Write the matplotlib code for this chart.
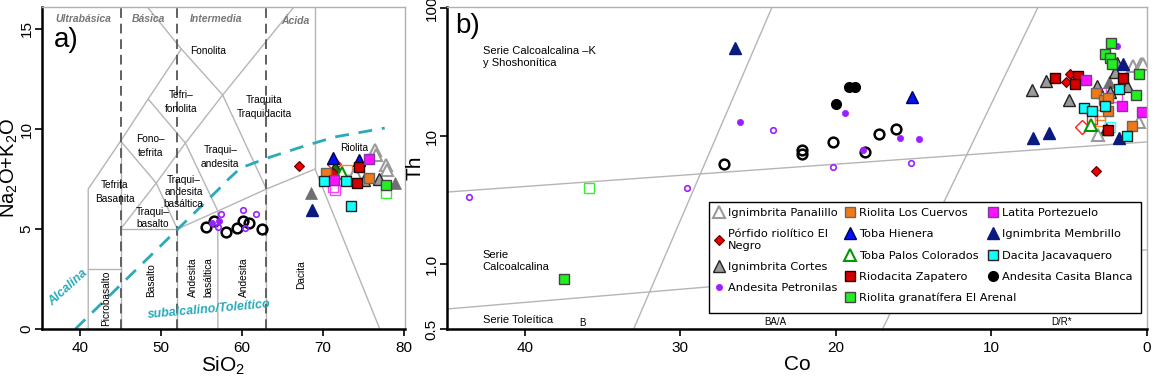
import matplotlib
matplotlib.use('Agg')
from matplotlib import pyplot as plt
from matplotlib.patches import Rectangle
from matplotlib.legend import Legend

plt.rcParams['font.family'] = ['Liberation Sans', 'DejaVu Sans']
plt.rcParams['mathtext.default'] = 'regular'

# ---- a) TAS diagram: classification boundaries (SiO2, Na2O+K2O)
tas_lines = [
	[(41, 0), (41, 7), (45, 9.4), (48.4, 11.5), (52.5, 14), (48.3, 16.1)],
	[(41, 3), (45, 3)],
	[(45, 0), (45, 9.4)],
	[(45, 5), (52, 5), (52, 0)],
	[(45, 5), (49.4, 7.3), (53, 9.3), (57.6, 11.7), (66.4, 16.1)],
	[(45, 9.4), (49.4, 7.3), (52, 5)],
	[(48.4, 11.5), (53, 9.3), (57, 5.9), (57, 0)],
	[(52.5, 14), (57.6, 11.7), (63, 7), (63, 0)],
	[(52, 5), (57, 5.9), (63, 7), (69, 8), (77, 0)],
	[(69, 8), (69, 16.1)],
]
class_x = [45, 52, 63]
alk_sio2 = [39.4, 57.0, 58.2, 59.8, 63.1, 67.3, 71.4, 77.6]
alk_tot = [0, 6.95, 7.45, 8.05, 8.55, 9.1, 9.6, 10.05]

# ---- b) Th-Co diagram boundaries (Co, Th)
thco_lines = [
	[(45, 3.65), (0, 9.0)],
	[(45, 0.445), (0, 1.29)],
	[(24.1, 102), (33.0, 0.31)],
	[(7.0, 102), (17.0, 0.31)],
]

# ---- samples: panel a (SiO2, alk) and panel b (Co, Th)
names = ['Ignimbrita Panalillo', 'Pórfido riolítico El\nNegro', 'Ignimbrita Cortes', 'Andesita Petronilas',
	'Riolita Los Cuervos', 'Toba Hienera', 'Toba Palos Colorados', 'Riodacita Zapatero',
	'Riolita granatífera El Arenal', 'Latita Portezuelo', 'Ignimbrita Membrillo', 'Dacita Jacavaquero',
	'Andesita Casita Blanca']

a_sio2 = {
	'panalillo': [76.35, 76.55, 77.8, 77.9, 73.9],
	'porfido': [66.98, 71.2],
	'cortes': [75.1, 76.9],
	'petronilas': [57.1, 56.3],
	'cuervos': [70.3, 75.7],
	'hienera': [71.2, 74.4],
	'palos': [72.3],
	'zapatero': [74.4, 74.2],
	'arenal': [77.8],
	'latita': [75.7, 71.4],
	'membrillo': [68.6],
	'jacavaquero': [70.1, 72.8, 73.5],
	'casita': [],
}
a_alk = {
	'panalillo': [8.95, 8.7, 8.2, 7.95, 7.8],
	'porfido': [8.17, 7.78],
	'cortes': [7.45, 7.48],
	'petronilas': [5.38, 5.32],
	'cuervos': [7.78, 7.53],
	'hienera': [8.53, 8.45],
	'palos': [7.78],
	'zapatero': [8.08, 7.28],
	'arenal': [7.2],
	'latita': [8.5, 7.45],
	'membrillo': [5.95],
	'jacavaquero': [7.42, 7.42, 6.17],
	'casita': [],
}
b_co = {
	'panalillo': [0.92, 0.41, 0.26, 0.5, 3.14],
	'porfido': [4.92, 5.23, 3.25],
	'cortes': [6.52, 7.37, 5.03, 3.2, 2.06, 1.96, 1.31, 2.39],
	'petronilas': [26.15, 19.4, 15.9, 14.65, 18.24, 1.95],
	'cuervos': [3.31, 2.75, 2.5, 2.5, 0.99],
	'hienera': [15.1],
	'palos': [3.63],
	'zapatero': [5.94, 4.43, 4.65, 1.53, 2.5],
	'arenal': [2.32, 2.71, 2.39, 2.28, 0.52, 0.71, 37.5],
	'latita': [3.95, 1.6, 0.32],
	'membrillo': [26.5, 1.57, 6.3, 7.35, 1.8],
	'jacavaquero': [1.8, 4.04, 3.53, 2.69, 1.31],
	'casita': [19.16, 18.77, 20.0],
}
b_th = {
	'panalillo': [35.2, 36.3, 36.3, 12.8, 10.2],
	'porfido': [30.3, 26.3, 5.3],
	'cortes': [27, 22.9, 19.1, 24.6, 31.8, 37.4, 24.6, 22],
	'petronilas': [12.9, 15.2, 9.6, 9.47, 7.8, 50.5],
	'cuervos': [21.6, 19.1, 19.7, 15.7, 11.95],
	'hienera': [20.3],
	'palos': [12.2],
	'zapatero': [28.5, 29.4, 25.5, 28.5, 11.1],
	'arenal': [53, 43.7, 40.5, 36.5, 30.3, 21, 0.77],
	'latita': [27.4, 17.2, 15.5],
	'membrillo': [48.4, 36.3, 10.5, 9.6, 9.6],
	'jacavaquero': [23.3, 16.5, 15.8, 17.1, 10.0],
	'casita': [24, 24, 17.8],
}

# extra (unlabelled) data, open symbols
ea_sio2 = {
	'blk_open': [55.6, 56.5, 58.05, 59.4, 60.15, 60.8, 62.4],
	'pur_open': [57.35, 60.1, 61.7, 60.35, 57.0],
	'mag_open': [71.2, 71.5],
	'ora_open': [72.9],
	'grn_open': [77.7],
	'red_open': [71.4],
	'dgrey': [68.5, 78.9],
	'dgreen': [71.5],
	'lblue_open': [73.3],
}
ea_alk = {
	'blk_open': [5.08, 5.42, 4.87, 5.05, 5.42, 5.28, 5.02],
	'pur_open': [5.73, 5.95, 5.73, 5.05, 5.08],
	'mag_open': [7.12, 6.95],
	'ora_open': [7.95],
	'grn_open': [6.78],
	'red_open': [8.25],
	'dgrey': [6.78, 7.28],
	'dgreen': [8.1],
	'lblue_open': [7.45],
}
eb_co = {
	'blk_open': [27.2, 22.2, 22.2, 20.2, 18.1, 17.2, 16.15],
	'pur_open': [43.6, 29.6, 24.06, 20.2, 15.14],
	'mag_open': [2.97, 1.96],
	'ora_open': [3.03, 3.03],
	'grn_open': [35.9],
	'red_open': [4.19],
	'dgrey': [2.43],
	'dgreen': [2.66],
	'redsq_open': [3.53],
	'cyan_open': [2.39],
}
eb_th = {
	'blk_open': [6.1, 7.8, 7.2, 9.0, 7.5, 10.4, 11.3],
	'pur_open': [3.32, 3.9, 11.1, 5.7, 6.2],
	'mag_open': [21.8, 20.3],
	'ora_open': [14.6, 13.2],
	'grn_open': [3.9],
	'red_open': [11.7],
	'dgrey': [26.6],
	'dgreen': [11.3],
	'redsq_open': [13.5],
	'cyan_open': [11.7],
}

# marker, size, face, edge, edge width
style = {
	'panalillo': ('^', 9, 'white', '#9a9a9a', 1.5),
	'porfido': ('D', 5, '#ee0000', '#550000', 0.8),
	'cortes': ('^', 9, '#9a9a9a', '#222222', 1.0),
	'petronilas': ('o', 4.5, '#9b1fff', '#9b1fff', 0.5),
	'cuervos': ('s', 7.5, '#f07818', '#666666', 1.0),
	'hienera': ('^', 9, '#0010ff', '#000044', 1.0),
	'palos': ('^', 9, 'white', '#009a00', 1.5),
	'zapatero': ('s', 7.5, '#d40000', '#220000', 1.0),
	'arenal': ('s', 7.5, '#22ee22', '#444444', 1.0),
	'latita': ('s', 7.5, '#ff10ff', '#7a3aa0', 1.0),
	'membrillo': ('^', 9, '#0a1a80', '#0a1a80', 1.0),
	'jacavaquero': ('s', 7.5, '#10ffff', '#222222', 1.0),
	'casita': ('o', 7, 'black', 'black', 1.0),
}
extra_style = {
	'blk_open': ('o', 7, 'none', 'black', 1.8),
	'pur_open': ('o', 4, 'none', '#9b1fff', 1.2),
	'mag_open': ('s', 7.5, 'none', '#ff40ff', 1.0),
	'ora_open': ('s', 7.5, 'none', '#f08838', 1.0),
	'grn_open': ('s', 7.5, 'none', '#33ee33', 1.0),
	'red_open': ('D', 7, 'none', '#ff2020', 1.0),
	'dgrey': ('^', 8, '#707070', '#707070', 0.5),
	'dgreen': ('^', 8, '#0a7a0a', '#222222', 1.0),
	'lblue_open': ('s', 7.5, 'none', '#a0a0ff', 1.0),
	'redsq_open': ('s', 7.5, 'none', '#ff2020', 1.0),
	'cyan_open': ('s', 7.5, 'none', '#30ffff', 1.0),
}


def draw_group(ax, x, y, st, label=None):
	m, ms, fc, ec, lw = st
	return ax.plot(x, y, linestyle='none', marker=m, markersize=ms, markerfacecolor=fc,
		markeredgecolor=ec, markeredgewidth=lw, label=label)


def style_axes(ax):
	for s in ['left', 'bottom']:
		ax.spines[s].set_linewidth(1.8)
		ax.spines[s].set_color('black')
	for s in ['top', 'right']:
		ax.spines[s].set_linewidth(1.0)
		ax.spines[s].set_color('#b0b0b0')
	ax.tick_params(direction='out', length=5, width=1.2, labelsize=11)
	ax.tick_params(axis='y', pad=1)
	for t in ax.get_yticklabels():
		t.set_rotation(90)
		t.set_va('center')


fig = plt.figure(figsize=(11.58, 3.8), dpi=100)
ax1 = fig.add_axes([0.0363, 0.134, 0.3134, 0.8476])
ax2 = fig.add_axes([0.386, 0.134, 0.6045, 0.8476])

# ---------------- panel a
for line in tas_lines:
	xs, ys = zip(*line)
	ax1.plot(xs, ys, color='#b5b5b5', lw=1.0, zorder=1)
for cx in class_x:
	ax1.plot([cx, cx], [0, 16.1], color='#606060', lw=1.4, ls=(0, (5, 3)), zorder=2)
ax1.plot(alk_sio2, alk_tot, color='#2aaabb', lw=2.0, ls=(0, (5, 3.5)), zorder=2)

for key, st in extra_style.items():
	if key in ea_sio2:
		draw_group(ax1, ea_sio2[key], ea_alk[key], st)
for key, st in style.items():
	if a_sio2[key]:
		draw_group(ax1, a_sio2[key], a_alk[key], st)

grp = dict(fontsize=7.5, fontstyle='italic', fontweight='bold', color='#777777', ha='center', va='center')
ax1.text(40.4, 15.5, 'Ultrabásica', **grp)
ax1.text(48.5, 15.5, 'Básica', **grp)
ax1.text(56.8, 15.5, 'Intermedia', **grp)
ax1.text(66.6, 15.4, 'Ácida', **grp)

fld = dict(fontsize=7.3, ha='center', va='center', linespacing=1.6)
ax1.text(55.8, 13.9, 'Fonolita', **fld)
ax1.text(52.5, 11.35, 'Tefri–\nfonolita', **fld)
ax1.text(62.7, 11.1, 'Traquita\nTraquidacita', **fld)
ax1.text(48.7, 9.15, 'Fono–\ntefrita', **fld)
ax1.text(57.3, 8.6, 'Traqui–\nandesita', **fld)
ax1.text(73.8, 9.05, 'Riolita', **fld)
ax1.text(44.3, 6.85, 'Tefrita\nBasanita', **fld)
ax1.text(52.8, 6.85, 'Traqui–\nandesita\nbasáltica', fontsize=7.3, ha='center', va='center', linespacing=1.3)
ax1.text(48.9, 5.55, 'Traqui–\nbasalto', fontsize=7.3, ha='center', va='center', linespacing=1.3)
rot = dict(fontsize=7.3, ha='center', va='center', rotation=90, linespacing=1.6)
ax1.text(43.2, 1.55, 'Picrobasalto', **rot)
ax1.text(48.8, 2.45, 'Basalto', **rot)
ax1.text(54.9, 2.6, 'Andesita\nbasáltica', **rot)
ax1.text(60.2, 2.6, 'Andesita', **rot)
ax1.text(67.3, 2.7, 'Dacita', **rot)

cy = dict(color='#2aaabb', fontstyle='italic', fontweight='bold', fontsize=9, ha='center', va='center')
ax1.text(38.5, 2.05, 'Alcalina', rotation=42, **cy)
ax1.text(55.9, 0.95, 'subalcalino/Toleítico', rotation=5, **cy)
ax1.text(36.7, 14.45, 'a)', fontsize=20, ha='left', va='center')

ax1.set_xlim(35.3, 80.1)
ax1.set_ylim(0, 16.1)
ax1.set_xticks([40, 50, 60, 70, 80])
ax1.set_yticks([0, 5, 10, 15])
ax1.set_xlabel('SiO$_2$', fontsize=15, labelpad=0)
ax1.set_ylabel('Na$_2$O+K$_2$O', fontsize=14.5, labelpad=0)
style_axes(ax1)

# ---------------- panel b
ax2.set_yscale('log')
for line in thco_lines:
	xs, ys = zip(*line)
	ax2.plot(xs, ys, color='#b5b5b5', lw=1.0, zorder=1)

for key, st in extra_style.items():
	if key in eb_co:
		draw_group(ax2, eb_co[key], eb_th[key], st)
handles = []
keys = list(style.keys())
for key, name in zip(keys, names):
	h, = draw_group(ax2, b_co[key], b_th[key], style[key], label=name)
	handles.append(h)

ax2.text(42.7, 41.4, 'Serie Calcoalcalina –K\ny Shoshonítica', fontsize=8, ha='left', va='center')
ax2.text(42.7, 1.05, 'Serie\nCalcoalcalina', fontsize=8, ha='left', va='center')
ax2.text(42.7, 0.365, 'Serie Toleítica', fontsize=8, ha='left', va='center')
ax2.text(36.3, 0.345, 'B', fontsize=7, ha='center', va='center')
ax2.text(23.9, 0.35, 'BA/A', fontsize=7, ha='center', va='center')
ax2.text(5.5, 0.35, 'D/R*', fontsize=7, ha='center', va='center')
ax2.text(44.5, 73, 'b)', fontsize=20, ha='left', va='center')

ax2.set_xlim(45, 0)
ax2.set_ylim(0.31, 102)
ax2.set_xticks([40, 30, 20, 10, 0])
ax2.set_yticks([0.31, 1, 10, 100])
ax2.set_yticklabels(['0.5', '1.0', '10', '100'])
ax2.minorticks_off()
ax2.set_xlabel('Co', fontsize=15, labelpad=0)
ax2.set_ylabel('Th', fontsize=15, labelpad=0)
style_axes(ax2)

# legend: three columns drawn as separate legends inside one frame
ax2.add_patch(Rectangle((0.374, 0.05), 0.617, 0.344, transform=ax2.transAxes, facecolor='white',
	edgecolor='black', lw=1.0, zorder=5))
cols = [(0.380, [0, 1, 2, 3]), (0.567, [4, 5, 6, 7, 8]), (0.772, [9, 10, 11, 12])]
for x0, idx in cols:
	leg = Legend(ax2, [handles[i] for i in idx], [names[i] for i in idx], loc='upper left',
		bbox_to_anchor=(x0, 0.375), bbox_transform=ax2.transAxes, borderaxespad=0, borderpad=0,
		frameon=False, prop={'family': 'DejaVu Sans', 'size': 8.2}, handlelength=1.0,
		handletextpad=0.3, labelspacing=0.98)
	leg.set_zorder(6)
	ax2.add_artist(leg)

fig.savefig('out.png', dpi=100)
